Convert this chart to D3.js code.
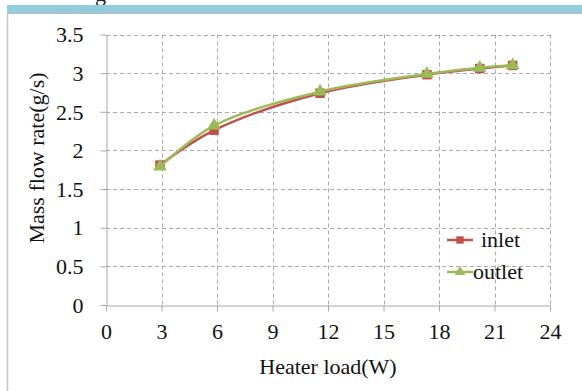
<!DOCTYPE html>
<html>
<head>
<meta charset="utf-8">
<script src="https://cdn.jsdelivr.net/npm/d3@7"></script>
<style>
  body { margin: 0; background: #fff; }
  svg { display: block; }
</style>
</head>
<body>
<script>
const heaterLoad = [2.92, 5.84, 11.57, 17.35, 20.2, 21.98];
const inlet = [1.81, 2.26, 2.74, 2.98, 3.06, 3.1];
const outlet = [1.79, 2.32, 2.76, 2.99, 3.07, 3.1];
const xTicks = [0, 3, 6, 9, 12, 15, 18, 21, 24];
const yTicks = [0, 0.5, 1, 1.5, 2, 2.5, 3, 3.5];

const W = 582, H = 391;
const font = '"Liberation Serif", "Times New Roman", serif';
const fs = 22;

const svg = d3.select('body').append('svg').attr('width', W).attr('height', H);

// slide frame bits (caption above is cut off in the original)
svg.append('text').attr('x', 95).attr('y', 1).attr('font-family', font)
  .attr('font-size', fs).attr('fill', '#222').text('g');
svg.append('rect').attr('x', 7).attr('y', 5).attr('width', W - 7).attr('height', 8).attr('fill', '#92cddc');
svg.append('line').attr('x1', 7).attr('x2', W).attr('y1', 13.5).attr('y2', 13.5)
  .attr('stroke', '#b8b8b8').attr('stroke-width', 1);
svg.append('line').attr('x1', 7.5).attr('x2', 7.5).attr('y1', 13).attr('y2', H)
  .attr('stroke', '#c8c8c8').attr('stroke-width', 1.5);

const x = d3.scaleLinear().domain([0, 24]).range([106, 550]);
const y = d3.scaleLinear().domain([0, 3.5]).range([305, 34.5]);

const grid = svg.append('g').attr('stroke', '#aaaaaa').attr('stroke-width', 1)
  .attr('stroke-dasharray', '4,3');
grid.selectAll('.h').data(yTicks.filter(d => d > 0)).enter().append('line')
  .attr('x1', x(0)).attr('x2', x(24))
  .attr('y1', d => Math.round(y(d)) + 0.5).attr('y2', d => Math.round(y(d)) + 0.5);
grid.selectAll('.v').data(xTicks.filter(d => d > 0)).enter().append('line')
  .attr('y1', y(3.5)).attr('y2', y(0))
  .attr('x1', d => Math.round(x(d)) + 0.5).attr('x2', d => Math.round(x(d)) + 0.5);

const xAxis = svg.append('g').attr('transform', `translate(0,${Math.round(y(0)) + 0.5})`)
  .call(d3.axisBottom(x).tickValues(xTicks).tickSizeInner(6).tickSizeOuter(0).tickPadding(11));
const yAxis = svg.append('g').attr('transform', `translate(${Math.round(x(0)) + 0.5},0)`)
  .call(d3.axisLeft(y).tickValues(yTicks).tickFormat(d3.format('')).tickSizeInner(6).tickSizeOuter(0).tickPadding(17));
[xAxis, yAxis].forEach(a => {
  a.select('.domain').attr('stroke', '#a8a8a8');
  a.selectAll('.tick line').attr('stroke', '#a8a8a8');
  a.selectAll('.tick text').attr('font-family', font).attr('font-size', fs).attr('fill', '#111');
});
xAxis.selectAll('.tick text').attr('dy', '0.75em');
yAxis.selectAll('.tick text').attr('dy', '0.33em');

svg.append('text').attr('x', 328).attr('y', 374).attr('text-anchor', 'middle')
  .attr('font-family', font).attr('font-size', fs).attr('fill', '#111').text('Heater load(W)');
svg.append('text').attr('transform', 'translate(44,158) rotate(-90)').attr('text-anchor', 'middle')
  .attr('font-family', font).attr('font-size', fs).attr('fill', '#111').text('Mass flow rate(g/s)');

const line = d3.line().curve(d3.curveCatmullRom.alpha(0.5));
const series = [
  { name: 'inlet', values: inlet, color: '#c0504d', shape: d3.symbolSquare, size: 90 },
  { name: 'outlet', values: outlet, color: '#9bbb59', shape: d3.symbolTriangle, size: 80 },
];

series.forEach(s => {
  const pts = heaterLoad.map((h, i) => [x(h), y(s.values[i])]);
  svg.append('path').attr('d', line(pts)).attr('fill', 'none')
    .attr('stroke', s.color).attr('stroke-width', 2.5);
  svg.append('g').selectAll('path').data(pts).enter().append('path')
    .attr('transform', d => `translate(${d[0]},${d[1]})`)
    .attr('d', d3.symbol().type(s.shape).size(s.size)).attr('fill', s.color);
});

// legend
const legend = [{ s: series[0], y: 240, tx: 481 }, { s: series[1], y: 272, tx: 473 }];
legend.forEach(l => {
  svg.append('line').attr('x1', 447).attr('x2', 473).attr('y1', l.y).attr('y2', l.y)
    .attr('stroke', l.s.color).attr('stroke-width', 2.5);
  svg.append('path').attr('transform', `translate(460,${l.y})`)
    .attr('d', d3.symbol().type(l.s.shape).size(l.s.size * 0.6)).attr('fill', l.s.color);
  svg.append('text').attr('x', l.tx).attr('y', l.y).attr('dy', '0.32em')
    .attr('font-family', font).attr('font-size', fs).attr('fill', '#111').text(l.s.name);
});
</script>
</body>
</html>
